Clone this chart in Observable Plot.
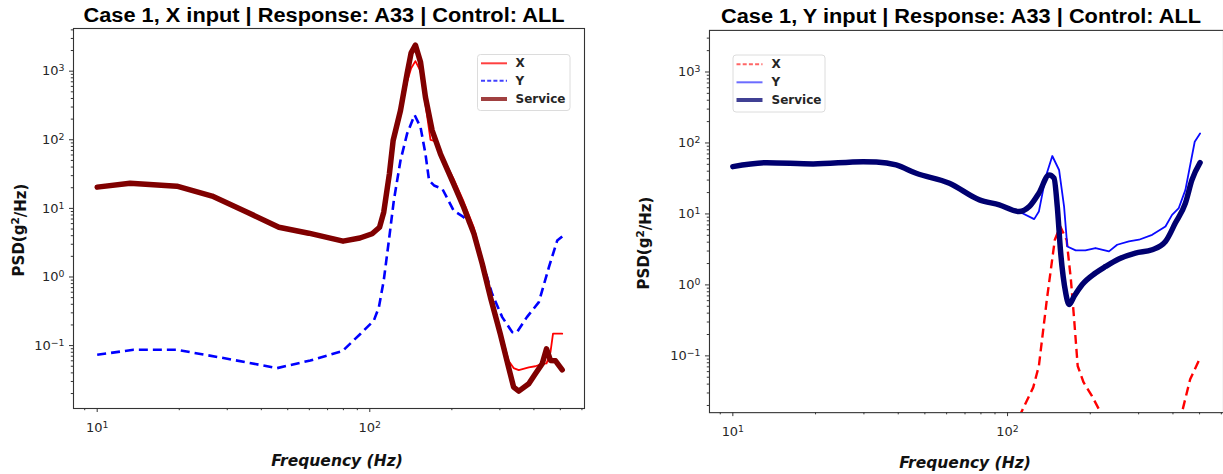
<!DOCTYPE html>
<html><head><meta charset="utf-8">
<script src="https://cdn.jsdelivr.net/npm/d3@7"></script>
<script src="https://cdn.jsdelivr.net/npm/@observablehq/plot@0.6"></script>
<style>
html,body{margin:0;padding:0;background:#fff;overflow:hidden;}
#root{position:relative;width:1223px;height:474px;overflow:hidden;background:#fff;}
.panel{position:absolute;top:0;}
#overlay{position:absolute;left:0;top:0;pointer-events:none;}
</style></head>
<body><div id="root"></div>
<script>
// ---------------- data ----------------
// Left panel: Case 1, X input
const leftServiceFreq = [10, 13.2, 19.6, 26.4, 35.5, 46.4, 59.7, 79.8, 92, 102, 108.6, 112.5, 118, 121.8, 129.6, 137, 141.8, 147, 153.5, 160, 169.3, 181.6, 203, 221, 241, 258.5, 277, 301, 323, 337, 352, 383, 405, 429, 445, 460, 480, 508];
const leftServicePSD  = [20.4, 23.3, 21.1, 15.1, 8.8, 5.3, 4.35, 3.33, 3.7, 4.27, 5.3, 8.8, 31.9, 97.7, 267, 916, 1850, 2400, 1353, 418, 137, 62.5, 22.8, 10.4, 4.27, 1.56, 0.508, 0.149, 0.048, 0.0248, 0.0217, 0.0277, 0.0388, 0.0543, 0.0897, 0.0607, 0.060, 0.0444];
const leftXFreq = [10, 13.2, 19.6, 26.4, 35.5, 46.4, 59.7, 79.8, 92, 102, 108.6, 112.5, 118, 121.8, 129.6, 137, 141.8, 147, 153.5, 160, 167, 175, 181.6, 203, 221, 241, 258.5, 277, 301, 323, 337, 352, 383, 405, 429, 445, 460, 470, 508];
const leftXPSD  = [20.4, 23.3, 21.1, 15.1, 8.8, 5.3, 4.35, 3.25, 3.6, 4.1, 5.0, 8.5, 30, 90, 240, 700, 1100, 1400, 1000, 330, 100, 95, 65, 27, 12.5, 5.2, 1.8, 0.6, 0.17, 0.06, 0.047, 0.044, 0.048, 0.05, 0.054, 0.055, 0.08, 0.149, 0.149];
const leftYFreq = [10, 13.6, 19.6, 30, 45.7, 60.5, 79.3, 92.5, 103.5, 108, 112.5, 117.5, 122.5, 129.6, 137, 146, 153.5, 160, 165, 172, 184.5, 203, 221, 237.6, 258, 281, 306, 333, 346, 377, 417, 454, 487, 508];
const leftYPSD  = [0.0735, 0.0869, 0.0869, 0.0643, 0.0469, 0.0607, 0.0828, 0.149, 0.232, 0.363, 0.89, 3.4, 13, 49.9, 122, 230, 153, 62.5, 25.5, 21.6, 19.3, 9.3, 7.45, 5.3, 1.74, 0.569, 0.26, 0.157, 0.155, 0.26, 0.43, 1.39, 3.4, 3.9];

// Right panel: Case 1, Y input
const rightServiceFreq = [10, 13.3, 19.6, 29.8, 33.3, 39.3, 46.5, 61.4, 79, 93.3, 110, 120, 130, 141.7, 147.6, 151.7, 156.1, 162.8, 167.4, 174.7, 187, 209, 227.5, 254, 292, 336, 375.6, 408, 444, 469, 502];
const rightServicePSD  = [46.4, 52.7, 50.6, 54.5, 54, 49, 37.4, 27.1, 15.8, 13.4, 10.8, 12.7, 19.6, 35.4, 31.9, 12.7, 2.81, 0.773, 0.528, 0.69, 1.01, 1.47, 1.82, 2.32, 2.81, 3.13, 4.09, 7.43, 14.2, 30.1, 52.7];
const rightYFreq = [10, 13.3, 19.6, 29.8, 33.3, 39.3, 46.5, 61.4, 79, 93.3, 110, 125, 130, 137.7, 145.5, 154, 160.6, 165, 177, 192, 209, 234, 250.6, 276.5, 300.8, 336, 375.6, 397, 420, 444, 480, 502];
const rightYPSD  = [46.4, 52.7, 50.6, 54.5, 54, 49, 37.4, 27.1, 15.8, 13.4, 10.8, 8.45, 10.8, 33.5, 65.5, 41.6, 12.7, 3.48, 3.06, 3.06, 3.31, 2.97, 3.68, 4.09, 4.33, 5.08, 6.65, 9.7, 12.1, 21.8, 104, 136];
const rightXFreq = [100, 112, 124, 130, 139, 148.6, 155.6, 164, 170, 174.7, 180, 189, 203, 220, 260, 330, 400, 431, 462, 496];
const rightXPSD  = [0.006, 0.0158, 0.036, 0.072, 0.62, 4.33, 6.65, 4.33, 1.2, 0.33, 0.072, 0.0425, 0.027, 0.015, 0.005, 0.003, 0.006, 0.0158, 0.0468, 0.0845];

// ticks and labels (base 10, exponent shown as superscript)
const xTicks = [10, 100];
const xTickExp = ["1", "2"];
const yTicks = [0.1, 1, 10, 100, 1000];
const yTickExp = ["−1", "0", "1", "2", "3"];
const legendLabels = ["X", "Y", "Service"];
const titles = ["Case 1, X input | Response: A33 | Control: ALL", "Case 1, Y input | Response: A33 | Control: ALL"];
const xLabel = "Frequency (Hz)";
const yLabelParts = ["PSD(g", "2", "/Hz)"];

// ---------------- helpers ----------------
const rows = (fs, vs) => fs.map((f, i) => ({f, v: vs[i]}));
function minorTicks(lo, hi) {
  const out = [];
  for (let e = -3; e <= 4; e++) for (let m = 2; m <= 9; m++) {
    const t = m * Math.pow(10, e);
    if (t >= lo && t <= hi) out.push(t);
  }
  return out;
}
const fmt = (ticks, exps) => d => { const i = ticks.findIndex(t => Math.abs(t - d) / t < 1e-6); return i >= 0 ? "10^" + exps[i] : ""; };

function panel(cfg) {
  const {width, height, ml, mr, mt, mb, xdom, ydom, series} = cfg;
  const svg = Plot.plot({
    width, height, marginLeft: ml, marginRight: mr, marginTop: mt, marginBottom: mb,
    x: {type: "log", domain: xdom},
    y: {type: "log", domain: ydom},
    style: {fontFamily: "DejaVu Sans", fontSize: "13px", color: "#262626", background: "transparent", overflow: "visible"},
    marks: [
      ...series.map(s => Plot.line(s.data, {x: "f", y: "v", stroke: s.color, strokeWidth: s.w, curve: s.curve || "linear",
        strokeDasharray: s.dash, strokeOpacity: s.op ?? 1, clip: true, strokeLinejoin: "round", strokeLinecap: s.dash ? "butt" : "round"})),
      Plot.frame({stroke: "#333", strokeWidth: 1.1}),
      Plot.axisX({ticks: xTicks, tickFormat: fmt(xTicks, xTickExp), tickSize: 4, tickPadding: 10, label: null, stroke: "#333"}),
      Plot.axisX({ticks: minorTicks(xdom[0], xdom[1]), tickFormat: () => "", tickSize: 2.2, label: null, stroke: "#333"}),
      Plot.axisY({ticks: yTicks, tickFormat: fmt(yTicks, yTickExp), tickSize: 4, tickPadding: 5, label: null, stroke: "#333"}),
      Plot.axisY({ticks: minorTicks(ydom[0], ydom[1]), tickFormat: () => "", tickSize: 2.2, label: null, stroke: "#333"})
    ]
  });
  // render "10^e" tick labels as base with a superscript exponent
  svg.querySelectorAll("text").forEach(t => {
    const s = t.textContent;
    if (s.startsWith("10^")) {
      t.textContent = "";
      const b = document.createElementNS("http://www.w3.org/2000/svg", "tspan");
      b.textContent = "10";
      const e = document.createElementNS("http://www.w3.org/2000/svg", "tspan");
      e.textContent = s.slice(3);
      e.setAttribute("dy", "-0.42em");
      e.setAttribute("font-size", "0.72em");
      t.appendChild(b); t.appendChild(e);
    }
  });
  return svg;
}

const root = document.getElementById("root");

const left = panel({
  width: 610, height: 474, ml: 73, mr: 26, mt: 28, mb: 66,
  xdom: [Math.pow(10, 0.9131), Math.pow(10, 2.7876)],
  ydom: [Math.pow(10, -1.917), Math.pow(10, 3.622)],
  series: [
    {data: rows(leftXFreq, leftXPSD), color: "#ff0000", w: 1.8},
    {data: rows(leftYFreq, leftYPSD), color: "#0000ff", w: 2.6, dash: "9,5"},
    {data: rows(leftServiceFreq, leftServicePSD), color: "#800000", w: 5.5}
  ]
});
const right = panel({
  width: 613, height: 474, ml: 97.3, mr: 0, mt: 30, mb: 60.5,
  xdom: [Math.pow(10, 0.915), Math.pow(10, 2.786)],
  ydom: [Math.pow(10, -1.80), Math.pow(10, 3.586)],
  series: [
    {data: rows(rightXFreq, rightXPSD), color: "#ff0000", w: 2.4, dash: "9,5"},
    {data: rows(rightYFreq, rightYPSD), color: "#0a0aff", w: 1.8},
    {data: rows(rightServiceFreq, rightServicePSD), color: "#000070", w: 5.5, curve: "monotone-x"}
  ]
});
const d1 = document.createElement("div"); d1.className = "panel"; d1.style.left = "0px"; d1.appendChild(left); root.appendChild(d1);
const d2 = document.createElement("div"); d2.className = "panel"; d2.style.left = "612px"; d2.appendChild(right); root.appendChild(d2);

// ---------------- overlay text: titles, axis labels, legends ----------------
const NS = "http://www.w3.org/2000/svg";
const ov = document.createElementNS(NS, "svg");
ov.setAttribute("id", "overlay"); ov.setAttribute("width", 1223); ov.setAttribute("height", 474);
root.appendChild(ov);
function el(tag, attrs, text, parent) {
  const e = document.createElementNS(NS, tag);
  for (const k in attrs) e.setAttribute(k, attrs[k]);
  if (text != null) e.textContent = text;
  (parent || ov).appendChild(e); return e;
}
// titles
el("text", {x: 324, y: 21.5, "text-anchor": "middle", "font-family": "Liberation Sans, Arial, sans-serif", "font-weight": "bold", "font-size": 19.5, textLength: 481, lengthAdjust: "spacingAndGlyphs", fill: "#000"}, titles[0]);
el("text", {x: 961, y: 23, "text-anchor": "middle", "font-family": "Liberation Sans, Arial, sans-serif", "font-weight": "bold", "font-size": 19.5, textLength: 480, lengthAdjust: "spacingAndGlyphs", fill: "#000"}, titles[1]);
// axis labels
for (const [x, y] of [[337, 461], [965, 463]])
  el("text", {x, y, "text-anchor": "middle", "dominant-baseline": "central", "font-family": "DejaVu Sans", "font-weight": "bold", "font-style": "italic", "font-size": 15.5, fill: "#111"}, xLabel);
for (const [x, y] of [[19, 230], [644, 243]]) {
  const t = el("text", {transform: `translate(${x},${y}) rotate(-90)`, "text-anchor": "middle", "dominant-baseline": "central", "font-family": "DejaVu Sans", "font-weight": "bold", "font-size": 15, fill: "#111"});
  el("tspan", {}, yLabelParts[0], t);
  el("tspan", {dy: "-0.4em", "font-size": "0.7em"}, yLabelParts[1], t);
  el("tspan", {dy: "0.4em"}, yLabelParts[2], t);
}
// legends
function legend(box, rowsY, hx1, hx2, tx, styles) {
  el("rect", {x: box[0], y: box[1], width: box[2], height: box[3], rx: 3, fill: "#fff", "fill-opacity": 0.85, stroke: "#dcdcdc", "stroke-width": 1});
  legendLabels.forEach((lab, i) => {
    const s = styles[i];
    el("line", {x1: hx1, x2: hx2, y1: rowsY[i], y2: rowsY[i], stroke: s.color, "stroke-width": s.w, "stroke-dasharray": s.dash || "none", "stroke-opacity": s.op});
    el("text", {x: tx, y: rowsY[i], "dominant-baseline": "central", "font-family": "DejaVu Sans", "font-weight": "bold", "font-size": 12, fill: "#262626"}, lab);
  });
}
legend([477.5, 54.5, 92.5, 56], [63.3, 80.7, 99], 481, 507, 515.5, [
  {color: "#ff0000", w: 2, op: 0.75},
  {color: "#0000ff", w: 2, dash: "4,2.2", op: 0.75},
  {color: "#800000", w: 4, op: 0.75}
]);
legend([733, 55, 92, 57], [64.3, 82.3, 100], 736.5, 762.5, 771.5, [
  {color: "#ff0000", w: 2, dash: "4,2.2", op: 0.6},
  {color: "#0a0aff", w: 2, op: 0.6},
  {color: "#000070", w: 4, op: 0.75}
]);
</script>
</body></html>
